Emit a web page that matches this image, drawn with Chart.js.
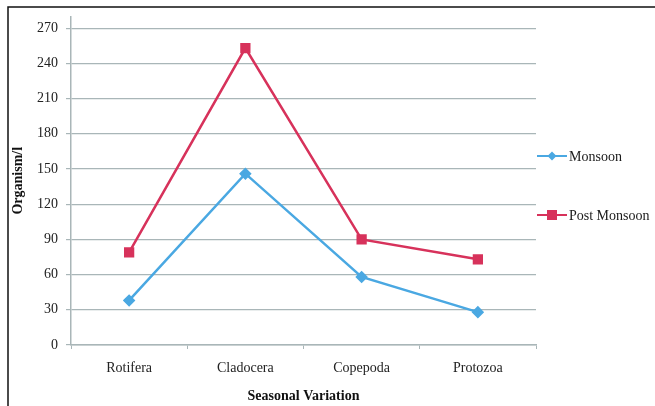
<!DOCTYPE html>
<html>
<head>
<meta charset="utf-8">
<script src="https://cdn.jsdelivr.net/npm/chart.js@4/dist/chart.umd.min.js"></script>
<style>
  html, body { margin: 0; padding: 0; background: #ffffff; }
  #wrap { width: 655px; height: 406px; }
</style>
</head>
<body>
<div id="wrap"><canvas id="c" width="655" height="406"></canvas></div>
<script>
// Zooplankton groups and their seasonal counts (organism per litre)
const categories = ['Rotifera', 'Cladocera', 'Copepoda', 'Protozoa'];
const monsoon = [38, 146, 58, 28];
const postMonsoon = [79, 253, 90, 73];
const yTicks = [0, 30, 60, 90, 120, 150, 180, 210, 240, 270];

const SERIF = '"Liberation Serif", "Times New Roman", serif';
const BLUE = '#4aa8e2';
const RED = '#d7325b';
const GRID = '#a9b6b8';

// Frame lines along the top and left of the figure
const framePlugin = {
  id: 'frame',
  beforeDraw(chart) {
    const ctx = chart.ctx;
    ctx.save();
    ctx.fillStyle = '#ffffff';
    ctx.fillRect(0, 0, chart.width, chart.height);
    ctx.strokeStyle = '#111111';
    ctx.lineWidth = 1.5;
    ctx.beginPath();
    ctx.moveTo(8, chart.height);
    ctx.lineTo(8, 7);
    ctx.lineTo(chart.width, 7);
    ctx.stroke();
    ctx.restore();
  }
};

// Legend on the right: line sample with marker, then the series name
const sideLegend = {
  id: 'sideLegend',
  afterDraw(chart) {
    const ctx = chart.ctx;
    const rows = [156, 215];
    ctx.save();
    chart.data.datasets.forEach((ds, i) => {
      const y = rows[i];
      const x0 = 537, x1 = 567, xm = 552;
      ctx.strokeStyle = ds.borderColor;
      ctx.lineWidth = 2;
      ctx.beginPath();
      ctx.moveTo(x0, y);
      ctx.lineTo(x1, y);
      ctx.stroke();
      ctx.fillStyle = ds.pointBackgroundColor;
      if (ds.pointStyle === 'rect') {
        ctx.fillRect(xm - 5, y - 5, 10, 10);
      } else {
        ctx.beginPath();
        ctx.moveTo(xm, y - 4.5);
        ctx.lineTo(xm + 4.5, y);
        ctx.lineTo(xm, y + 4.5);
        ctx.lineTo(xm - 4.5, y);
        ctx.closePath();
        ctx.fill();
      }
      ctx.fillStyle = '#1a1a1a';
      ctx.font = '14px ' + SERIF;
      ctx.textBaseline = 'middle';
      ctx.textAlign = 'left';
      ctx.fillText(ds.label, 569, y + 1);
    });
    ctx.restore();
  }
};

new Chart(document.getElementById('c'), {
  type: 'line',
  data: {
    labels: categories,
    datasets: [
      {
        label: 'Monsoon',
        data: monsoon,
        borderColor: BLUE,
        backgroundColor: BLUE,
        pointBackgroundColor: BLUE,
        pointBorderColor: BLUE,
        pointStyle: 'rectRot',
        pointRadius: 4.5,
        borderWidth: 2.5,
        tension: 0
      },
      {
        label: 'Post Monsoon',
        data: postMonsoon,
        borderColor: RED,
        backgroundColor: RED,
        pointBackgroundColor: RED,
        pointBorderColor: RED,
        pointStyle: 'rect',
        pointRadius: 5.5,
        borderWidth: 2.5,
        tension: 0
      }
    ]
  },
  options: {
    responsive: false,
    animation: false,
    devicePixelRatio: 1,
    layout: { padding: { left: 0, right: 119, top: 12, bottom: 0 } },
    plugins: {
      legend: { display: false },
      tooltip: { enabled: false }
    },
    scales: {
      x: {
        type: 'category',
        offset: true,
        grid: {
          offset: true,
          drawOnChartArea: false,
          drawTicks: true,
          tickLength: 4,
          color: GRID
        },
        border: { color: GRID, width: 1.5 },
        ticks: {
          color: '#222222',
          font: { family: SERIF, size: 14 },
          padding: 11,
          maxRotation: 0
        },
        title: {
          display: true,
          text: 'Seasonal Variation',
          color: '#111111',
          font: { family: SERIF, size: 14, weight: 'bold' },
          padding: { top: 0, bottom: 1 }
        },
        afterFit(scale) { scale.height = 61; }
      },
      y: {
        min: 0,
        max: 280,
        afterBuildTicks(scale) {
          scale.ticks = yTicks.map(v => ({ value: v }));
        },
        grid: {
          color: GRID,
          lineWidth: 1.2,
          drawTicks: true,
          tickLength: 5
        },
        border: { color: GRID, width: 1.5 },
        ticks: {
          color: '#222222',
          font: { family: SERIF, size: 14 },
          padding: 8
        },
        title: {
          display: true,
          text: 'Organism/l',
          color: '#111111',
          font: { family: SERIF, size: 14, weight: 'bold' },
          padding: { top: 10, bottom: 0 }
        },
        afterFit(scale) { scale.width = 71; }
      }
    }
  },
  plugins: [framePlugin, sideLegend]
});
</script>
</body>
</html>
